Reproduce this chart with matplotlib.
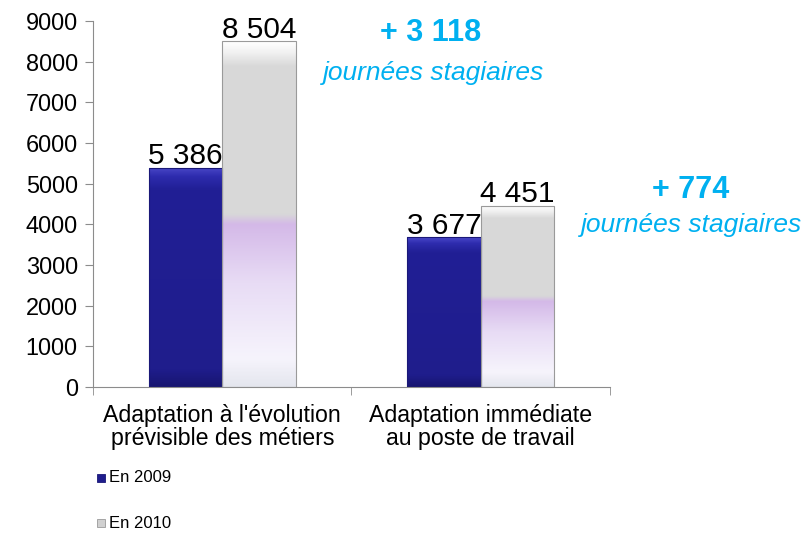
import numpy as np
import matplotlib.pyplot as plt
from matplotlib.colors import LinearSegmentedColormap
from matplotlib.patches import Rectangle

plt.rcParams['font.family'] = ['Liberation Sans', 'DejaVu Sans']

categories = ["Adaptation à l'évolution\nprévisible des métiers",
              "Adaptation immédiate\nau poste de travail"]
values_2009 = [5386, 3677]
values_2010 = [8504, 4451]
gains = ["+ 3 118", "+ 774"]
series_names = ["En 2009", "En 2010"]

cyan = '#00b0f0'

# gradients (bottom -> top)
blue_cmap = LinearSegmentedColormap.from_list('blue', [
    (0.0, '#171570'), (0.08, '#1f1d8c'), (0.9, '#211f95'), (0.96, '#2e2cae'), (1.0, '#4a48c8')])
gray_cmap = LinearSegmentedColormap.from_list('gray', [
    (0.0, '#e4e6ee'), (0.08, '#f6f4fc'), (0.3, '#e8dcf5'), (0.47, '#d4b9e8'),
    (0.5, '#d8d8d8'), (0.93, '#d9d9d9'), (0.97, '#f2f2f2'), (1.0, '#ffffff')])

fig = plt.figure(figsize=(8.06, 5.37), dpi=100)
ax = fig.add_axes([0.1154, 0.2793, 0.6414, 0.6816])

x = np.arange(len(categories))
w = 0.285
grad = np.linspace(0, 1, 256).reshape(-1, 1)


def gradient_bar(xc, h, cmap, edge):
    x0 = xc - w / 2
    rect = Rectangle((x0, 0), w, h, facecolor='none', edgecolor=edge, lw=0.8, zorder=3)
    ax.add_patch(rect)
    im = ax.imshow(grad, cmap=cmap, origin='lower', aspect='auto',
                   extent=(x0, x0 + w, 0, h), zorder=2)
    im.set_clip_path(rect)


for i in range(len(categories)):
    gradient_bar(x[i] - w / 2, values_2009[i], blue_cmap, '#1a1878')
    gradient_bar(x[i] + w / 2, values_2010[i], gray_cmap, '#9a9a9a')
    ax.text(x[i] - w / 2, values_2009[i] - 60, f"{values_2009[i]:,}".replace(',', ' '),
            ha='center', va='bottom', fontsize=21.5, zorder=4)
    ax.text(x[i] + w / 2, values_2010[i] - 60, f"{values_2010[i]:,}".replace(',', ' '),
            ha='center', va='bottom', fontsize=21.5, zorder=4)

ax.set_xlim(-0.5, 1.5)
ax.set_ylim(0, 9000)
ax.set_yticks(range(0, 9001, 1000))
ax.set_xticks(x)
ax.set_xticklabels(categories, fontsize=16.7, linespacing=1.0)
ax.set_xticks([-0.5, 0.5, 1.5], minor=True)
ax.tick_params(axis='x', which='major', length=0, pad=12)
ax.tick_params(axis='x', which='minor', length=6, color='#8c8c8c')
ax.tick_params(axis='y', length=6, color='#8c8c8c', labelsize=16.9, pad=5)
for s in ['top', 'right']:
    ax.spines[s].set_visible(False)
for s in ['left', 'bottom']:
    ax.spines[s].set_color('#8c8c8c')

# gain annotations
fig.text(431 / 806, 1 - 33 / 537, gains[0], color=cyan, fontsize=22, fontweight='bold',
         ha='center', va='center')
fig.text(434 / 806, 1 - 73 / 537, 'journées stagiaires', color=cyan, fontsize=19,
         style='italic', ha='center', va='center')
fig.text(691 / 806, 1 - 190 / 537, gains[1], color=cyan, fontsize=22, fontweight='bold',
         ha='center', va='center')
fig.text(692 / 806, 1 - 225 / 537, 'journées stagiaires', color=cyan, fontsize=19,
         style='italic', ha='center', va='center')

# legend
for j, (name, col, ec) in enumerate(zip(series_names, ['#1f1d8c', '#d0d0d0'], ['#1a1878', '#9a9a9a'])):
    yy = 1 - (478 + j * 45) / 537
    fig.patches.append(Rectangle((97 / 806, yy - 4 / 537), 8 / 806, 8 / 537,
                                 transform=fig.transFigure, facecolor=col, edgecolor=ec, lw=0.6))
    fig.text(109 / 806, yy, name, fontsize=12, ha='left', va='center')

fig.savefig('out.png', dpi=100)
